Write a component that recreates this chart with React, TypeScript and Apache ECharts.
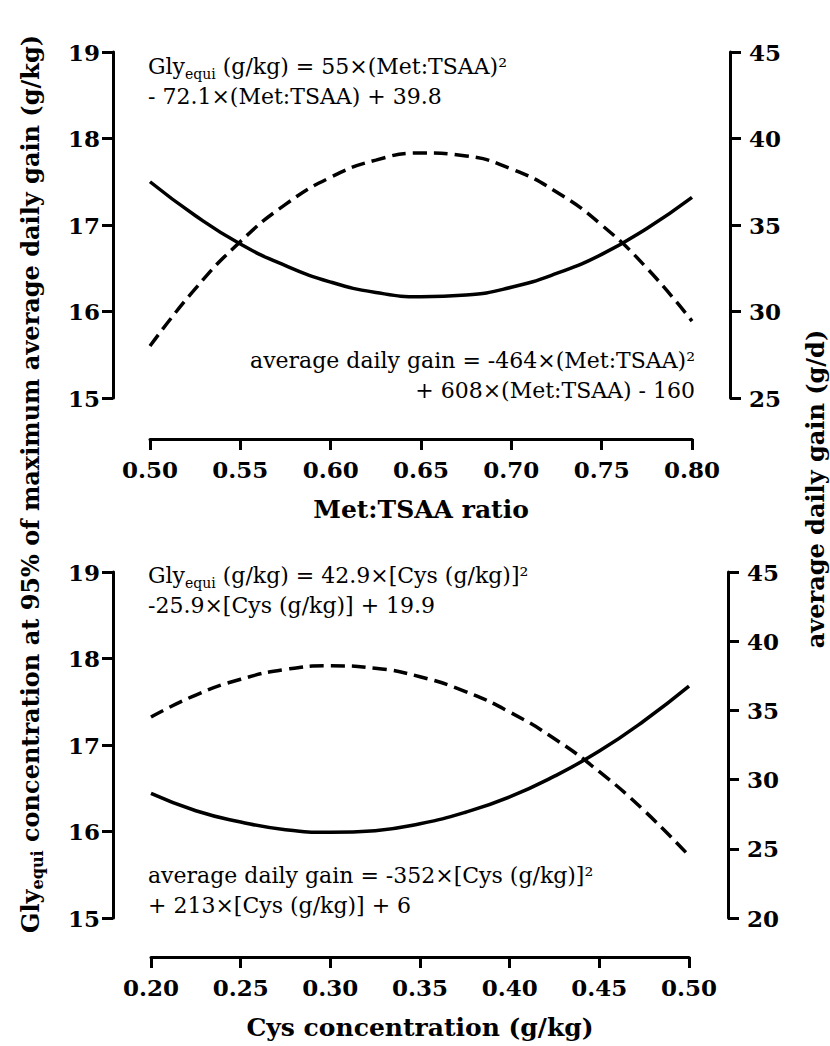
import React, { useEffect, useRef } from "react";
import * as echarts from "echarts";

// Top panel: Met:TSAA ratio
const metX = [0.5, 0.525, 0.55, 0.575, 0.6, 0.625, 0.65, 0.675, 0.7, 0.725, 0.75, 0.775, 0.8];
const metGly = [17.5, 17.11, 16.78, 16.53, 16.34, 16.22, 16.17, 16.19, 16.28, 16.44, 16.66, 16.96, 17.32];
const metAdg = [28.0, 31.31, 34.04, 36.19, 37.76, 38.75, 39.16, 38.99, 38.24, 36.91, 35.0, 32.51, 29.44];

// Bottom panel: Cys concentration
const cysX = [0.2, 0.225, 0.25, 0.275, 0.3, 0.325, 0.35, 0.375, 0.4, 0.425, 0.45, 0.475, 0.5];
const cysGly = [16.44, 16.24, 16.11, 16.02, 15.99, 16.01, 16.09, 16.22, 16.4, 16.64, 16.93, 17.28, 17.68];
const cysAdg = [34.52, 36.11, 37.25, 37.96, 38.22, 38.05, 37.43, 36.38, 34.88, 32.95, 30.57, 27.76, 24.5];

const FONT = "DejaVu Serif";

export default function App() {
  const ref = useRef<HTMLDivElement>(null);
  useEffect(() => {
    document.body.style.margin = "0";
    if (!ref.current) return;
    const chart = echarts.init(ref.current, null, { renderer: "svg" });
    const axisLine = { show: true, lineStyle: { color: "#000", width: 3 } };
    const axisTick = { show: true, length: 11, lineStyle: { color: "#000", width: 3 } };
    const labelBase = { color: "#000", fontSize: 23, fontWeight: "bold" as const, fontFamily: FONT };
    const leftLabel = { ...labelBase, margin: 13 };
    const rightLabel = { ...labelBase, margin: 19 };
    const xLabel = { ...labelBase, margin: 19, formatter: (v: number) => v.toFixed(2) };
    const nameStyle = { color: "#000", fontSize: 25, fontWeight: "bold" as const, fontFamily: FONT };
    const pair = (xs: number[], ys: number[]) => xs.map((x, i) => [x, ys[i]]);
    const solid = { color: "#000", width: 3.5, type: "solid" as const };
    const dashed = { color: "#000", width: 3.5, type: [14, 7] as any };
    const eqRich = {
      n: { fontSize: 22, fontFamily: FONT, color: "#000", lineHeight: 30 },
      sub: { fontSize: 14, fontFamily: FONT, color: "#000", lineHeight: 14, verticalAlign: "bottom" as const },
    };
    const eq = (x: number, y: number, text: string, align: "left" | "right") => ({
      type: "text",
      x,
      y,
      style: {
        text,
        rich: eqRich,
        align,
        verticalAlign: "top",
        fontSize: 22,
        fontFamily: FONT,
        fill: "#000",
        lineHeight: 30,
      },
    });
    const noSplit = { show: false };
    chart.setOption({
      animation: false,
      textStyle: { fontFamily: FONT },
      grid: [
        { left: 150, right: 138, top: 52, height: 346 },
        { left: 151, right: 141, top: 572, height: 346 },
      ],
      xAxis: [
        {
          type: "value", gridIndex: 0, min: 0.5, max: 0.8, interval: 0.05, offset: 41,
          axisLine, axisTick, axisLabel: xLabel, splitLine: noSplit,
          name: "Met:TSAA ratio", nameLocation: "middle", nameGap: 58, nameTextStyle: nameStyle,
        },
        {
          type: "value", gridIndex: 1, min: 0.2, max: 0.5, interval: 0.05, offset: 39,
          axisLine, axisTick, axisLabel: xLabel, splitLine: noSplit,
          name: "Cys concentration (g/kg)", nameLocation: "middle", nameGap: 58, nameTextStyle: nameStyle,
        },
      ],
      yAxis: [
        { type: "value", gridIndex: 0, position: "left", offset: 37, min: 15, max: 19, interval: 1,
          axisLine, axisTick, axisLabel: leftLabel, splitLine: noSplit },
        { type: "value", gridIndex: 0, position: "right", offset: 38, min: 25, max: 45, interval: 5,
          axisLine, axisTick, axisLabel: rightLabel, splitLine: noSplit },
        { type: "value", gridIndex: 1, position: "left", offset: 38, min: 15, max: 19, interval: 1,
          axisLine, axisTick, axisLabel: leftLabel, splitLine: noSplit },
        { type: "value", gridIndex: 1, position: "right", offset: 39, min: 20, max: 45, interval: 5,
          axisLine, axisTick, axisLabel: rightLabel, splitLine: noSplit },
      ],
      series: [
        { type: "line", xAxisIndex: 0, yAxisIndex: 0, data: pair(metX, metGly), smooth: true, showSymbol: false, lineStyle: solid },
        { type: "line", xAxisIndex: 0, yAxisIndex: 1, data: pair(metX, metAdg), smooth: true, showSymbol: false, lineStyle: dashed },
        { type: "line", xAxisIndex: 1, yAxisIndex: 2, data: pair(cysX, cysGly), smooth: true, showSymbol: false, lineStyle: solid },
        { type: "line", xAxisIndex: 1, yAxisIndex: 3, data: pair(cysX, cysAdg), smooth: true, showSymbol: false, lineStyle: dashed },
      ],
      graphic: [
        eq(148, 51, "{n|Gly}{sub|equi}{n| (g/kg) = 55×(Met:TSAA)²}\n{n|- 72.1×(Met:TSAA) + 39.8}", "left"),
        eq(695, 345, "{n|average daily gain = -464×(Met:TSAA)²}\n{n|+ 608×(Met:TSAA) - 160}", "right"),
        eq(148, 560, "{n|Gly}{sub|equi}{n| (g/kg) = 42.9×[Cys (g/kg)]²}\n{n|-25.9×[Cys (g/kg)] + 19.9}", "left"),
        eq(148, 860, "{n|average daily gain = -352×[Cys (g/kg)]²}\n{n|+ 213×[Cys (g/kg)] + 6}", "left"),
        {
          type: "text",
          x: 30,
          y: 484,
          rotation: Math.PI / 2,
          style: {
            text: "{b|Gly}{bs|equi}{b| concentration at 95% of maximum average daily gain (g/kg)}",
            rich: {
              b: { fontSize: 24, fontWeight: "bold", fontFamily: FONT, color: "#000", lineHeight: 30 },
              bs: { fontSize: 16, fontWeight: "bold", fontFamily: FONT, color: "#000", lineHeight: 16, verticalAlign: "bottom" },
            },
            align: "center",
            verticalAlign: "middle",
          },
        },
        {
          type: "text",
          x: 815,
          y: 489,
          rotation: Math.PI / 2,
          style: {
            text: "average daily gain (g/d)",
            fontSize: 24,
            fontWeight: "bold",
            fontFamily: FONT,
            fill: "#000",
            align: "center",
            verticalAlign: "middle",
          },
        },
      ],
    });
    return () => chart.dispose();
  }, []);
  return <div ref={ref} style={{ width: 830, height: 1046 }} />;
}
